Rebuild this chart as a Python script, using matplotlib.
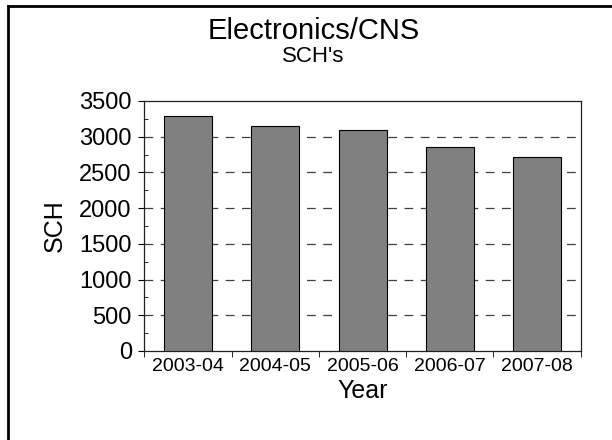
import matplotlib
matplotlib.use("Agg")
import matplotlib.pyplot as plt
from matplotlib.lines import Line2D
from matplotlib.ticker import MultipleLocator, FixedLocator

plt.rcParams['font.family'] = ['Liberation Sans', 'DejaVu Sans']

# data
years = ["2003-04", "2004-05", "2005-06", "2006-07", "2007-08"]
sch = [3290, 3145, 3100, 2855, 2715]

fig = plt.figure(figsize=(6.12, 4.40), dpi=100)
ax = fig.add_axes([0.2358, 0.2023, 0.7131, 0.5682])

pos = list(range(len(years)))
ax.bar(pos, sch, width=0.55, color='#808080', edgecolor='black', linewidth=0.8, zorder=3)

ax.set_xlim(-0.5, len(years) - 0.5)
ax.set_ylim(0, 3500)

# dashed grid at the major y ticks
ax.yaxis.set_major_locator(MultipleLocator(500))
ax.yaxis.set_minor_locator(MultipleLocator(250))
for v in range(500, 3500, 500):
    ax.axhline(v, color='#404040', linestyle=(0, (7, 6)), linewidth=0.9, zorder=1)

ax.set_xticks(pos)
ax.set_xticklabels(years, fontsize=14)
ax.xaxis.set_minor_locator(FixedLocator([p - 0.5 for p in pos] + [len(years) - 0.5]))
ax.tick_params(axis='x', which='major', length=0, pad=5)
ax.tick_params(axis='x', which='minor', length=4, direction='out', color='black')
ax.tick_params(axis='y', which='major', labelsize=17, length=4, direction='out', pad=5)
ax.tick_params(axis='y', which='minor', length=3, direction='in')

for s in ax.spines.values():
    s.set_color('#202020')
    s.set_linewidth(0.9)

ax.set_xlabel("Year", fontsize=18, labelpad=3)
ax.set_ylabel("SCH", fontsize=18, labelpad=9)

fig.text(0.512, 1 - 31 / 440, "Electronics/CNS", ha='center', va='center', fontsize=21)
fig.text(0.512, 1 - 56 / 440, "SCH's", ha='center', va='center', fontsize=16)

# frame lines at the left and top of the figure
fig.add_artist(Line2D([7.5 / 612, 7.5 / 612], [0, 1 - 6.5 / 440], color='black', linewidth=2,
                      transform=fig.transFigure))
fig.add_artist(Line2D([7.5 / 612, 1], [1 - 6.5 / 440, 1 - 6.5 / 440], color='black', linewidth=2,
                      transform=fig.transFigure))

fig.savefig("out.png", dpi=100)
